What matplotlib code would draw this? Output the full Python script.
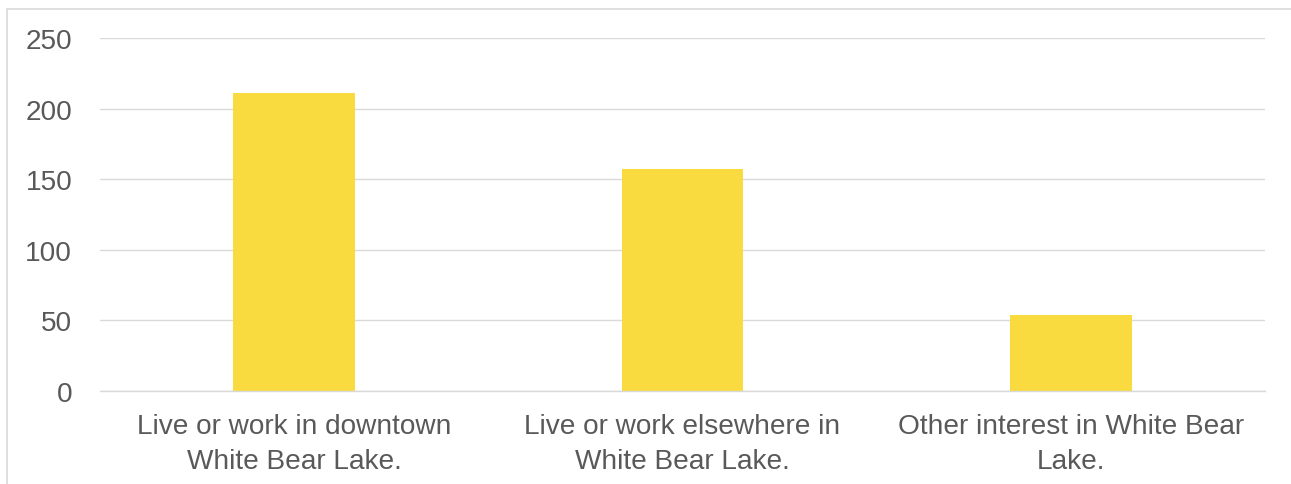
import matplotlib
matplotlib.use("Agg")
import matplotlib.pyplot as plt
from matplotlib.patches import Rectangle

categories = [
    "Live or work in downtown\nWhite Bear Lake.",
    "Live or work elsewhere in\nWhite Bear Lake.",
    "Other interest in White Bear\nLake.",
]
counts = [211, 157, 54]
y_ticks = [0, 50, 100, 150, 200, 250]

plt.rcParams['font.family'] = ['Liberation Sans', 'DejaVu Sans']

fig = plt.figure(figsize=(12.91, 4.85), dpi=100)
ax = fig.add_axes([100 / 1291, 1 - 391.7 / 485, 1165 / 1291, (391.7 - 39) / 485])

# light frame around the chart area
fig.patches.append(Rectangle((7 / 1291, -0.1), 1.2, 1 - 10 / 485 + 0.1,
                             transform=fig.transFigure, fill=False,
                             edgecolor='#d9d9d9', linewidth=1.2))

x = range(len(categories))
ax.bar(x, counts, width=0.314, color='#f9db40', zorder=2)

ax.set_xlim(-0.5, 2.5)
ax.set_ylim(0, 250)
ax.set_yticks(y_ticks)
ax.set_xticks(list(x))
ax.set_xticklabels(categories, linespacing=1.45)

ax.grid(axis='y', color='#d9d9d9', linewidth=1.0, zorder=0)
ax.set_axisbelow(True)
for side in ['top', 'right', 'left']:
    ax.spines[side].set_visible(False)
ax.spines['bottom'].set_color('#d9d9d9')
ax.spines['bottom'].set_linewidth(1.0)

ax.tick_params(axis='y', length=0, pad=20, labelsize=20.2, labelcolor='#595959')
ax.tick_params(axis='x', length=0, pad=16, labelsize=20.2, labelcolor='#595959')

fig.savefig("out.png", dpi=100)
